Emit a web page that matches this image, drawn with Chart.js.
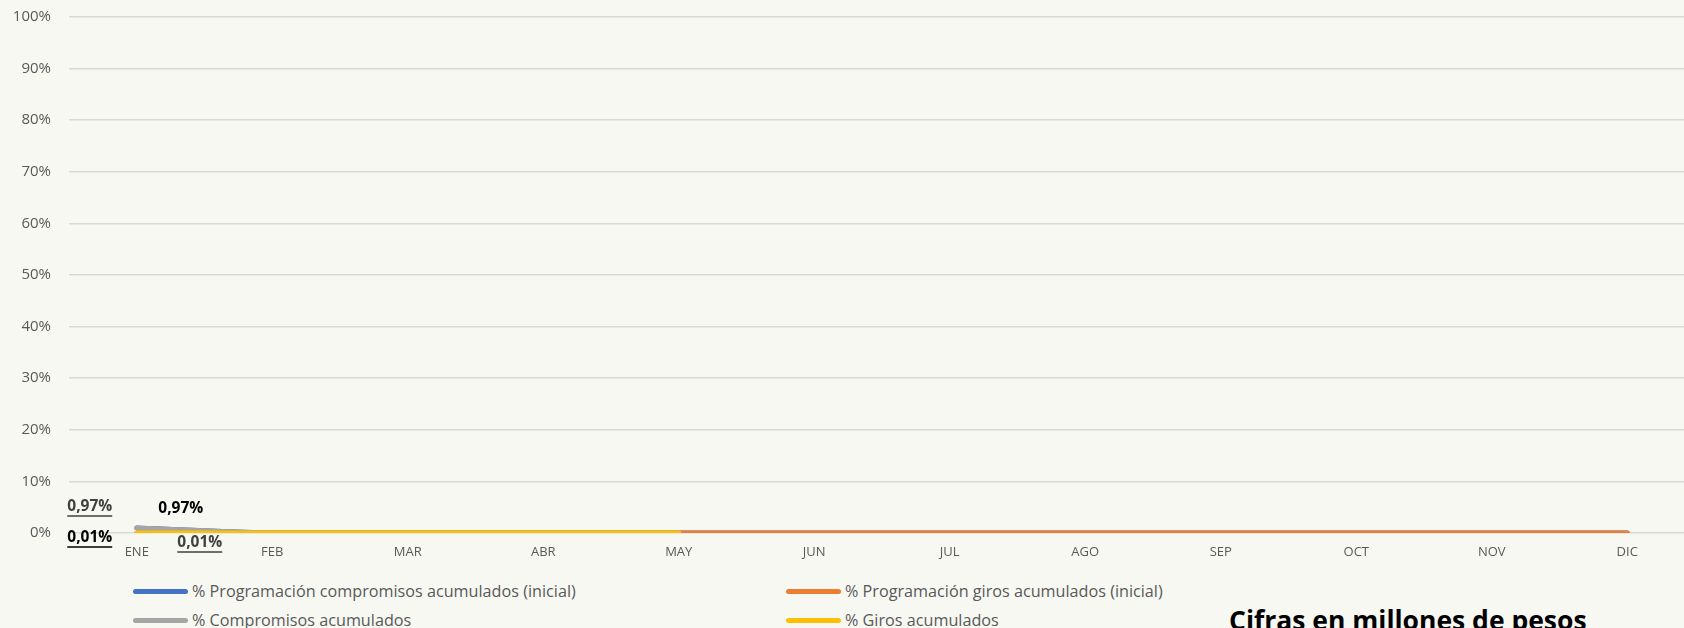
<!DOCTYPE html>
<html>
<head>
<meta charset="utf-8">
<script src="https://cdn.jsdelivr.net/npm/chart.js@4.4.1/dist/chart.umd.min.js"></script>
<style>
  html, body { margin: 0; padding: 0; background: #f8f8f3; overflow: hidden; width: 1684px; height: 628px; }
  #wrap { position: absolute; left: 0; top: -10px; width: 1695px; height: 576px; }
  .leg { position: absolute; font-family: "Open Sans", sans-serif; font-size: 16.2px; color: #595959; display: flex; align-items: center; white-space: nowrap; }
  .leg span.ln { display: inline-block; width: 55px; height: 5px; border-radius: 3px; margin-right: 4px; }
  #cifras { position: absolute; left: 1229px; top: 607px; font-family: "Open Sans", sans-serif; font-size: 26.5px; line-height: 26px; font-weight: bold; color: #000; white-space: nowrap; }
</style>
</head>
<body>
<div id="wrap"><canvas id="avanceChart"></canvas></div>
<div id="legend"></div>
<div id="cifras">Cifras en millones de pesos</div>
<script>
// datos
const meses = ['ENE', 'FEB', 'MAR', 'ABR', 'MAY', 'JUN', 'JUL', 'AGO', 'SEP', 'OCT', 'NOV', 'DIC'];
const progCompromisos = [0.97, 0, 0, 0, 0, 0, 0, 0, 0, 0, 0, 0];
const progGiros = [0.01, 0, 0, 0, 0, 0, 0, 0, 0, 0, 0, 0];
const compromisos = [0.97, 0, 0, 0, 0];
const giros = [0.01, 0.01, 0.01, 0.01, 0.01];
const yTicks = [0, 10, 20, 30, 40, 50, 60, 70, 80, 90, 100];

const series = [
    { label: '% Programación compromisos acumulados (inicial)', data: progCompromisos, color: '#4472C4' },
    { label: '% Programación giros acumulados (inicial)', data: progGiros, color: '#ED7D31' },
    { label: '% Compromisos acumulados', data: compromisos, color: '#A5A5A5' },
    { label: '% Giros acumulados', data: giros, color: '#FFC000' }
];

function pct(v) {
    return v.toFixed(2).replace('.', ',') + '%';
}

// etiquetas de datos (serie, punto, desplazamiento)
const etiquetas = [
    { serie: 0, punto: 0, dx: -47, dy: -21, color: '#404040', sub: true },
    { serie: 2, punto: 0, dx: 44, dy: -19, color: '#000000', sub: false },
    { serie: 1, punto: 0, dx: -47, dy: 5, color: '#000000', sub: true },
    { serie: 3, punto: 0, dx: 63, dy: 10, color: '#404040', sub: true }
];

const dataLabels = {
    id: 'dataLabels',
    afterDatasetsDraw(chart) {
        const ctx = chart.ctx;
        ctx.save();
        ctx.font = 'bold 15.5px "Open Sans"';
        ctx.textAlign = 'center';
        ctx.textBaseline = 'middle';
        etiquetas.forEach(function (e) {
            const idx = chart.data.datasets.findIndex(d => d.serie === e.serie);
            const pt = chart.getDatasetMeta(idx).data[e.punto];
            const txt = pct(series[e.serie].data[e.punto]);
            const x = pt.x + e.dx, y = pt.y + e.dy;
            ctx.fillStyle = e.color;
            ctx.fillText(txt, x, y);
            if (e.sub) {
                const w = ctx.measureText(txt).width;
                ctx.strokeStyle = e.color;
                ctx.lineWidth = 1.5;
                ctx.beginPath();
                ctx.moveTo(x - w / 2, y + 9);
                ctx.lineTo(x + w / 2, y + 9);
                ctx.stroke();
            }
        });
        ctx.restore();
    }
};

// orden de dibujo: giros arriba, programación compromisos abajo
const drawOrder = [3, 2, 1, 0];
const datasets = drawOrder.map(function (i) {
    return {
        serie: i,
        label: series[i].label,
        data: series[i].data,
        borderColor: series[i].color,
        backgroundColor: series[i].color,
        borderWidth: 5,
        borderCapStyle: 'round',
        pointRadius: 0,
        tension: 0.4,
        fill: false
    };
});

const ctx = document.getElementById('avanceChart').getContext('2d');
new Chart(ctx, {
    type: 'line',
    data: { labels: meses, datasets: datasets },
    options: {
        responsive: true,
        maintainAspectRatio: false,
        animation: false,
        layout: { padding: { left: 0, top: 6, right: 0, bottom: 0 } },
        plugins: { legend: { display: false }, tooltip: { enabled: false } },
        scales: {
            x: {
                offset: true,
                grid: { display: false, drawTicks: false },
                border: { display: false },
                ticks: { color: '#595959', font: { family: 'Open Sans', size: 13 }, padding: 11, maxRotation: 0 },
                afterFit: function (s) { s.height = 33; }
            },
            y: {
                min: 0,
                max: 100,
                afterBuildTicks: function (s) { s.ticks = yTicks.map(v => ({ value: v })); },
                grid: { color: '#d9d9d9', lineWidth: 1.5, drawTicks: false },
                border: { display: false },
                ticks: { color: '#595959', font: { family: 'Open Sans', size: 15 }, padding: 18, callback: v => v + '%' },
                afterFit: function (s) { s.width = 69; }
            }
        }
    },
    plugins: [dataLabels]
});

// leyenda en dos columnas
const legendPos = [[133, 591], [786, 591], [133, 620], [786, 620]];
const legend = document.getElementById('legend');
series.forEach(function (s, i) {
    const d = document.createElement('div');
    d.className = 'leg';
    d.style.left = legendPos[i][0] + 'px';
    d.style.top = (legendPos[i][1] - 11) + 'px';
    d.style.height = '22px';
    d.innerHTML = '<span class="ln" style="background:' + s.color + '"></span>' + s.label;
    legend.appendChild(d);
});
</script>
</body>
</html>
